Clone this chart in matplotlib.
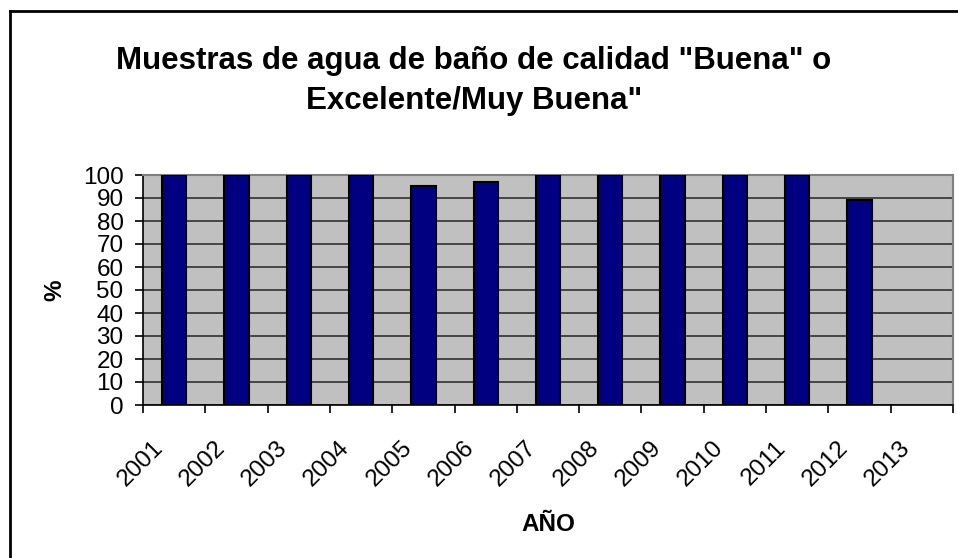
import matplotlib.pyplot as plt
import numpy as np
from matplotlib.lines import Line2D
import matplotlib.transforms as mtransforms

plt.rcParams['font.family'] = ['Liberation Sans', 'DejaVu Sans']

# Data
years = ['2001', '2002', '2003', '2004', '2005', '2006', '2007',
         '2008', '2009', '2010', '2011', '2012', '2013']
percent = [100, 100, 100, 100, 95, 97, 100, 100, 100, 100, 100, 89, np.nan]
y_ticks = list(range(0, 101, 10))

W, H = 958, 558
fig = plt.figure(figsize=(W / 100, H / 100), dpi=100)
ax = fig.add_axes([143 / W, 1 - 405 / H, (953 - 143) / W, (405 - 175) / H])

x = np.arange(len(years))
ax.set_facecolor('#C0C0C0')
ax.bar(x, percent, width=0.39, color='#000080', edgecolor='black', linewidth=1.5, zorder=3)

ax.set_xlim(-0.5, len(years) - 0.5)
ax.set_ylim(0, 100)
ax.set_yticks(y_ticks)
ax.set_yticklabels([str(v) for v in y_ticks], fontsize=17.5)
ax.yaxis.grid(True, color='#303030', linewidth=1.2, zorder=1)

# category labels at centres, tick marks at boundaries
ax.set_xticks(x)
ax.set_xticklabels(years, fontsize=17.5, rotation=45, ha='right')
ax.tick_params(axis='x', which='major', length=0, pad=23)
ax.set_xticks(np.arange(len(years) + 1) - 0.5, minor=True)
ax.tick_params(axis='x', which='minor', length=6, width=1.2, color='black', direction='out')
ax.tick_params(axis='y', length=6, width=1.2, color='black', direction='out', pad=8)
shift = mtransforms.ScaledTranslation(-7 / 100, 0, fig.dpi_scale_trans)
for lbl in ax.get_xticklabels():
    lbl.set_transform(lbl.get_transform() + shift)

for side in ['top', 'right']:
    ax.spines[side].set_color('#808080')
    ax.spines[side].set_linewidth(1.5)
for side in ['left', 'bottom']:
    ax.spines[side].set_color('black')
    ax.spines[side].set_linewidth(1.2)

ax.set_ylabel('%', fontsize=17.5, fontweight='bold', labelpad=12)
ax.set_xlabel('AÑO', fontsize=17.5, fontweight='bold', labelpad=16)

fig.text(474 / W, 1 - 81 / H, 'Muestras de agua de baño de calidad "Buena" o\nExcelente/Muy Buena"',
         ha='center', va='center', fontsize=22.5, fontweight='bold', linespacing=1.42)

# outer chart border (left and top visible)
fig.add_artist(Line2D([10 / W, 10 / W], [0, 1 - 11 / H], color='black', linewidth=2))
fig.add_artist(Line2D([10 / W, 1], [1 - 11 / H, 1 - 11 / H], color='black', linewidth=2))

fig.savefig('out.png', dpi=100)
